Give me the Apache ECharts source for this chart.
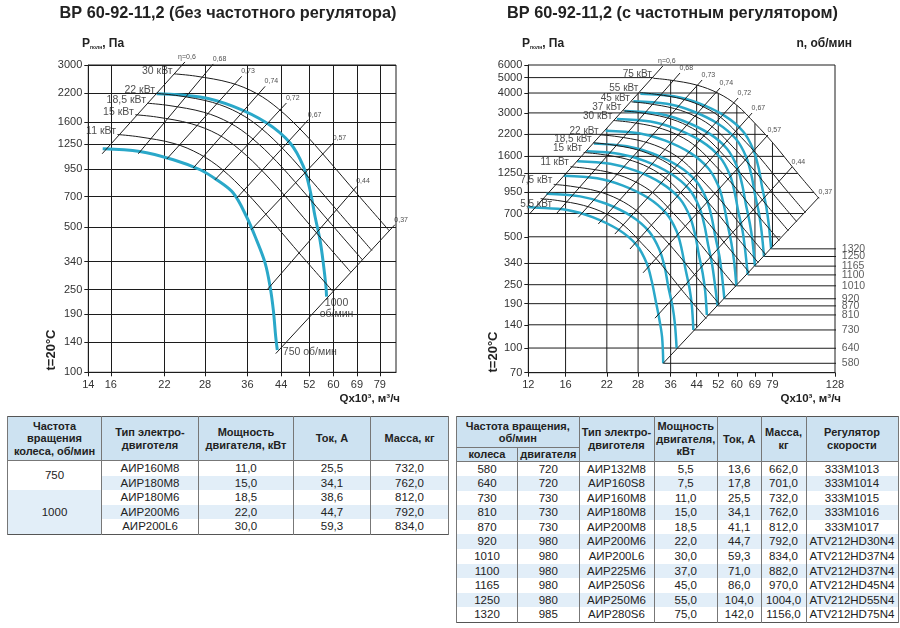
<!DOCTYPE html>
<html><head><meta charset="utf-8">
<script src="https://cdn.jsdelivr.net/npm/echarts@6/dist/echarts.min.js"></script>
<style>
body{margin:0;background:#fff;}
#chart{position:absolute;left:0;top:0;width:900px;height:410px;}
table.t{position:absolute;border-collapse:collapse;table-layout:fixed;font-family:'Liberation Sans',Arial,sans-serif;font-size:11.5px;color:#222;border:1.5px solid #555;}
table.t td,table.t th{padding:0;text-align:center;border-left:1px solid #777;border-right:1px solid #777;white-space:nowrap;overflow:hidden;}
table.t td{height:14.5px;line-height:14.5px;}
table.t th{background:#cde2f1;font-weight:bold;font-size:11px;line-height:12.5px;border-bottom:1px solid #777;}
table.t td.b{background:#e2eef8;}
</style></head><body>
<div id="chart"></div>
<table class="t" id="t1" style="left:7px;top:416px;width:441px"></table>
<table class="t" id="t2" style="left:456px;top:416px;width:441px"></table>
<script>
// ---------------- LEFT CHART (без частотного регулятора) ----------------
const L_xTicks = [14,16,22,28,36,44,52,60,69,79];
const L_yTicks = [100,140,190,250,340,500,700,950,1250,1600,2200,3000];
const L_xRange = [14,87];
const L_yRange = [100,3000];
const L_rpmLabels = ['750 об/мин','1000\nоб/мин'];
const L_rpmCurves = [
  [[15.25,1188],[19.0,1152],[23.2,1051],[27.2,941],[30.0,842],[33.1,727],[35.8,561],[38.0,433],[40.0,335],[41.2,258],[42.0,199],[42.6,148],[43.0,128]],
  [[21.0,2185],[27.2,2106],[33.1,1898],[40.4,1579],[46.4,1265],[50.2,976],[52.2,754],[53.8,561],[55.4,433],[56.5,335],[57.4,258],[57.6,231]]
];
const L_powerLabels = ['30 кВт','22 кВт','18,5 кВт','15 кВт','11 кВт'];
const L_powerCurves = [
  [[23.3,2720],[26.5,2652],[32.6,2462],[38.0,2190],[43.3,1847],[50.1,1428],[57.8,1061],[69.4,713],[83.6,479]],
  [[21.0,2190],[23.9,2135],[29.3,1982],[34.2,1763],[39.1,1487],[45.2,1150],[52.1,854],[62.6,574],[75.4,385]],
  [[19.9,1965],[22.6,1916],[27.8,1778],[32.4,1582],[37.0,1334],[42.8,1032],[49.4,766],[59.3,515],[71.4,346]],
  [[18.5,1730],[21.0,1687],[25.8,1566],[30.2,1393],[34.4,1175],[39.8,908],[45.9,675],[55.1,453],[66.4,304]],
  [[16.65,1390],[18.9,1355],[23.3,1258],[27.1,1119],[31.0,944],[35.8,730],[41.3,542],[49.6,364],[59.8,245]]
];
const L_etaLabels = ['η=0,6','0,68','0,73','0,74','0,72','0,67','0,57','0,44','0,37'];
const L_etaLines = [
  [[15.2,1123],[24.85,3103]],
  [[18.84,1123],[29.4,3035]],
  [[22.3,1059],[34.8,2646]],
  [[26.1,959],[40.0,2368]],
  [[29.7,842],[45.4,1970]],
  [[33.8,688],[51.7,1637]],
  [[36.8,484],[59.9,1265]],
  [[40.6,251],[68.9,782]],
  [[42.6,123],[86.4,512]]
];

// ---------------- RIGHT CHART (с частотным регулятором) ----------------
const R_xTicks = [12,16,22,28,36,44,52,60,69,79,128];
const R_yTicks = [70,100,140,190,250,340,500,700,950,1250,1600,2200,3000,4000,5000,6000];
const R_xRange = [12,128];
const R_yRange = [70,6000];
const R_rpmLabels = ['580','640','730','810','870','920','1010','1100','1165','1250','1320'];
const R_rpmCurves = [
  [[12.0,768],[12.5,765],[16.2,737],[19.7,665],[24.1,553],[27.7,443],[29.9,342],[31.1,264],[32.1,197],[33.0,151],[33.7,117],[34.0,80.2]],
  [[13.8,931],[17.9,897],[21.8,809],[26.6,673],[30.5,539],[33.0,416],[34.4,321],[35.4,239],[36.5,184],[37.2,142],[37.7,99.7]],
  [[15.8,1211],[20.4,1167],[24.8,1052],[30.3,876],[34.8,701],[37.7,541],[39.2,418],[40.4,311],[41.6,240],[42.4,185],[42.9,129.9]],
  [[17.5,1491],[22.6,1437],[27.6,1296],[33.7,1078],[38.7,863],[41.8,666],[43.5,514],[44.8,383],[46.1,295],[47.0,228],[47.6,161.4]],
  [[18.8,1720],[24.3,1658],[29.6,1495],[36.1,1244],[41.5,996],[44.9,769],[46.7,593],[48.1,442],[49.5,341],[50.5,263],[51.7,184]],
  [[19.9,1924],[25.7,1855],[31.3,1672],[38.2,1391],[43.9,1114],[47.5,860],[49.4,664],[50.9,494],[52.4,381],[53.4,294],[54.5,204]],
  [[21.8,2319],[28.2,2236],[34.4,2015],[42.0,1677],[48.2,1343],[52.1,1037],[54.2,800],[55.9,596],[57.5,459],[58.7,355],[59.8,246]],
  [[23.75,2750],[30.8,2651],[37.4,2390],[45.7,1988],[52.5,1592],[56.8,1229],[59.0,949],[60.8,707],[62.7,545],[63.9,421],[65.3,288]],
  [[25.2,3084],[32.6,2973],[39.6,2680],[48.4,2230],[55.6,1786],[60.1,1379],[62.5,1064],[64.4,793],[66.3,611],[67.7,472],[69.0,327]],
  [[27.0,3551],[34.95,3423],[42.5,3086],[51.9,2567],[59.6,2056],[64.5,1587],[67.1,1225],[69.1,913],[71.2,703],[72.6,543],[74.0,376]],
  [[28.5,3960],[36.9,3817],[44.9,3441],[54.8,2863],[63.0,2293],[68.1,1770],[70.9,1366],[73.0,1018],[75.2,784],[76.7,606],[78.2,420]]
];
const R_rpmLineEndQ = 130.3;
const R_powerLabels = ['75 кВт','55 кВт','45 кВт','37 кВт','30 кВт','22 кВт','18,5 кВт','15 кВт','11 кВт','7,5 кВт','5,5 кВт'];
const R_powerCurves = [
  [[31.5,4951],[35.8,4827],[44.0,4491],[52.0,3986],[59.9,3362],[69.0,2580],[79.5,1931],[94.5,1297],[113.1,871]],
  [[28.4,4026],[32.3,3925],[39.7,3652],[46.9,3241],[54.0,2734],[62.2,2098],[71.7,1570],[85.2,1055],[102.0,709]],
  [[26.6,3522],[30.2,3434],[37.1,3194],[43.9,2835],[50.5,2391],[58.2,1835],[67.1,1374],[79.7,923],[95.4,620]],
  [[24.9,3092],[28.3,3015],[34.8,2804],[41.1,2489],[47.3,2099],[54.5,1611],[62.8,1206],[74.7,810],[89.4,544]],
  [[23.2,2688],[26.4,2621],[32.4,2438],[38.3,2164],[44.1,1825],[50.8,1400],[58.6,1048],[69.6,704],[83.3,473]],
  [[20.9,2186],[23.8,2131],[29.2,1983],[34.6,1760],[39.8,1484],[45.8,1139],[52.8,853],[62.8,573],[75.1,385]],
  [[19.8,1948],[22.5,1899],[27.6,1767],[32.6,1568],[37.6,1323],[43.3,1015],[49.9,760],[59.3,510],[70.9,343]],
  [[18.4,1693],[20.9,1651],[25.7,1536],[30.4,1363],[35.0,1150],[40.3,882],[46.5,660],[55.3,444],[66.1,298]],
  [[16.6,1377],[18.9,1343],[23.2,1249],[27.4,1108],[31.6,935],[36.4,717],[41.9,537],[49.8,361],[59.6,242]],
  [[14.6,1067],[16.6,1040],[20.4,968],[24.1,859],[27.8,724],[32.0,556],[36.9,416],[43.9,280],[52.5,188]],
  [[13.2,868],[15.0,846],[18.4,787],[21.8,699],[25.1,589],[28.9,452],[33.3,339],[39.6,227],[47.4,153]]
];
const R_etaLabels = ['η=0,6','0,68','0,73','0,74','0,72','0,67','0,57','0,44','0,37'];
const R_etaLines = [
  [[12.16,702],[33.9,5914]],
  [[14.94,702],[38.7,5343]],
  [[17.65,663],[45.9,4829]],
  [[20.6,602],[52.7,4300]],
  [[23.4,520],[60.6,3722]],
  [[26.3,419],[67.5,2996]],
  [[29.1,297],[76.3,2180]],
  [[31.9,154],[91.9,1372]],
  [[34.0,80.2],[113.2,889]]
];
// grid lines of the right chart (clipped to working area)
const R_hGridP    = [100,140,190,250,340,500,700,950,1250,1600,2200,3000,4000,5000];
const R_hGridEndQ = [37.8,44.3,52.2,60,69.5,84,100.8,108.8,96.1,86.3,74.6,63.7,51.8,31.5];
const R_vGridQ    = [16,22,28,36,44,52,60,69,79];
const R_vGridBotP = [70,70,70,70,134,188,250,330,433];
const R_vGridTopP = [1242,2410,3979,4820,4491,3986,3357,2580,1956];

// ---------------- TABLES ----------------
const tL_rpm = ['750','1000'];
const tL_rpmSpan = [2,3];
const tL_motor = ['АИР160М8','АИР180М8','АИР180М6','АИР200М6','АИР200L6'];
const tL_power = ['11,0','15,0','18,5','22,0','30,0'];
const tL_current = ['25,5','34,1','38,6','44,7','59,3'];
const tL_mass = ['732,0','762,0','812,0','792,0','834,0'];

const tR_wheel = ['580','640','730','810','870','920','1010','1100','1165','1250','1320'];
const tR_engine = ['720','720','730','730','730','980','980','980','980','980','985'];
const tR_motor = ['АИР132М8','АИР160S8','АИР160М8','АИР180М8','АИР200М8','АИР200М6','АИР200L6','АИР225М6','АИР250S6','АИР250М6','АИР280S6'];
const tR_power = ['5,5','7,5','11,0','15,0','18,5','22,0','30,0','37,0','45,0','55,0','75,0'];
const tR_current = ['13,6','17,8','25,5','34,1','41,1','44,7','59,3','71,0','86,0','104,0','142,0'];
const tR_mass = ['662,0','701,0','732,0','762,0','812,0','792,0','834,0','882,0','970,0','1004,0','1156,0'];
const tR_reg = ['333М1013','333М1014','333М1015','333М1016','333М1017','ATV212HD30N4','ATV212HD37N4','ATV212HD37N4','ATV212HD45N4','ATV212HD55N4','ATV212HD75N4'];

// ================= build =================
const lg = Math.log10;
const FONT = "'Liberation Sans', Arial, sans-serif";
const INK = '#1c1c1c';
const CYAN = '#2aa8c9';
const toLog = p => [lg(p[0]), lg(p[1])];

function makeAxis(gi, ticks, range, split, isY) {
  const cv = ticks.map(lg);
  return {
    type: 'value', gridIndex: gi, min: lg(range[0]), max: lg(range[1]),
    axisLine: {show: true, onZero: false, lineStyle: {color: INK, width: 1}},
    axisTick: {show: true, inside: false, length: 4, customValues: cv, lineStyle: {color: INK}},
    axisLabel: {customValues: cv, color: '#333', fontSize: 11, fontFamily: FONT, margin: isY ? 6 : 7,
      formatter: v => String(Math.round(Math.pow(10, v)))},
    splitLine: {show: split, lineStyle: {color: INK, width: 1}}
  };
}

const series = [];
function addLine(gi, pts, opt) {
  series.push(Object.assign({
    type: 'line', xAxisIndex: gi, yAxisIndex: gi, data: pts.map(toLog),
    symbol: 'none', silent: true, animation: false,
    lineStyle: {color: INK, width: 1}, z: 3
  }, opt));
}
function addLabel(gi, pt, text, lab) {
  series.push({
    type: 'scatter', xAxisIndex: gi, yAxisIndex: gi, symbolSize: 1, silent: true, animation: false, clip: false, z: 8,
    itemStyle: {color: 'rgba(0,0,0,0)'},
    data: [{value: toLog(pt), label: Object.assign({show: true, formatter: text, color: '#222', fontSize: 10.5, fontFamily: FONT}, lab)}]
  });
}

// ---- left chart series
L_rpmCurves.forEach((c) => addLine(0, c, {smooth: 0.35, lineStyle: {color: CYAN, width: 3}, z: 3}));
L_powerCurves.forEach((c, i) => {
  addLine(0, c, {smooth: 0.35, z: 4});
  addLabel(0, c[0], L_powerLabels[i], {position: 'left', distance: 1, offset: [0, -3]});
});
L_etaLines.forEach((c, i) => {
  addLine(0, c, {z: 4, clip: false});
  addLabel(0, c[1], L_etaLabels[i], i === 0 ? {position: 'top', distance: 1, fontSize: 7, offset: [2, 0]} : {position: [0, -8], fontSize: 7});
});
addLabel(0, L_rpmCurves[0][L_rpmCurves[0].length - 1], L_rpmLabels[0], {position: 'right', distance: 5, offset: [0, 2], fontSize: 10.5});
addLabel(0, L_rpmCurves[1][L_rpmCurves[1].length - 1], L_rpmLabels[1], {position: 'bottom', distance: 0, offset: [10, 0], fontSize: 10.5, lineHeight: 11, align: 'center'});

// ---- right chart series
R_hGridP.forEach((p, i) => addLine(1, [[R_xRange[0], p], [R_hGridEndQ[i], p]], {z: 1}));
R_vGridQ.forEach((q, i) => addLine(1, [[q, R_vGridBotP[i]], [q, R_vGridTopP[i]]], {z: 1}));
R_rpmCurves.forEach((c, i) => {
  addLine(1, c, {smooth: 0.35, lineStyle: {color: CYAN, width: 2.5}, z: 3});
  const e = c[c.length - 1];
  addLine(1, [e, [R_rpmLineEndQ, e[1]]], {z: 2, clip: false});
  addLabel(1, [R_rpmLineEndQ, e[1]], R_rpmLabels[i], {position: 'right', distance: 4, fontSize: 10.5, color: '#333'});
});
R_powerCurves.forEach((c, i) => {
  addLine(1, c, {smooth: 0.35, z: 4});
  const last = i === R_powerCurves.length - 1;
  addLabel(1, c[0], R_powerLabels[i], last ? {position: 'left', distance: 1, offset: [13, 6], fontSize: 10}
                                          : {position: 'left', distance: 1, offset: [0, -4], fontSize: 10});
});
R_etaLines.forEach((c, i) => {
  addLine(1, c, {z: 4, clip: false});
  addLabel(1, c[1], R_etaLabels[i], i === 0 ? {position: 'top', distance: 1, fontSize: 7, offset: [4, 0]} : {position: [0, -8], fontSize: 7});
});

const bold = s => 'bold ' + s + 'px ' + FONT;
const option = {
  animation: false,
  textStyle: {fontFamily: FONT},
  grid: [
    {left: 88.3, top: 65, width: 307.7, height: 307.3, show: true, borderColor: INK, borderWidth: 1},
    {left: 528.3, top: 65, width: 306.7, height: 307.7, show: true, borderColor: INK, borderWidth: 1}
  ],
  xAxis: [makeAxis(0, L_xTicks, L_xRange, true, false), makeAxis(1, R_xTicks, R_xRange, false, false)],
  yAxis: [makeAxis(0, L_yTicks, L_yRange, true, true), makeAxis(1, R_yTicks, R_yRange, false, true)],
  series: series,
  graphic: [
    {type: 'text', x: 228, y: 14, style: {text: 'ВР 60-92-11,2 (без частотного регулятора)', font: bold(16.3), fill: '#222', align: 'center', verticalAlign: 'middle'}},
    {type: 'text', x: 672.5, y: 14, style: {text: 'ВР 60-92-11,2 (с частотным регулятором)', font: bold(16.3), fill: '#222', align: 'center', verticalAlign: 'middle'}},
    {type: 'text', x: 82, y: 44, style: {text: '{a|P}{s|полн}{a|, Па}', verticalAlign: 'middle', rich: {a: {font: bold(12), fill: '#222'}, s: {font: bold(5), fill: '#222', verticalAlign: 'bottom'}}}},
    {type: 'text', x: 522, y: 44, style: {text: '{a|P}{s|полн}{a|, Па}', verticalAlign: 'middle', rich: {a: {font: bold(12), fill: '#222'}, s: {font: bold(5), fill: '#222', verticalAlign: 'bottom'}}}},
    {type: 'text', x: 852, y: 44, style: {text: 'n, об/мин', font: bold(12), fill: '#222', align: 'right', verticalAlign: 'middle'}},
    {type: 'text', x: 400, y: 399, style: {text: 'Qx10³, м³/ч', font: bold(11.5), fill: '#222', align: 'right', verticalAlign: 'middle'}},
    {type: 'text', x: 841, y: 399, style: {text: 'Qx10³, м³/ч', font: bold(11.5), fill: '#222', align: 'right', verticalAlign: 'middle'}},
    {type: 'text', x: 51, y: 350, rotation: Math.PI / 2, style: {text: 't=20°C', font: bold(13), fill: '#222', align: 'center', verticalAlign: 'middle'}},
    {type: 'text', x: 493, y: 352, rotation: Math.PI / 2, style: {text: 't=20°C', font: bold(13), fill: '#222', align: 'center', verticalAlign: 'middle'}}
  ]
};
echarts.init(document.getElementById('chart'), null, {renderer: 'canvas'}).setOption(option);

// ---- tables
(function () {
  const t1 = document.getElementById('t1');
  let h = '<colgroup>' + [94, 97, 95, 77, 78].map(w => '<col style="width:' + w + 'px">').join('') + '</colgroup>';
  h += '<tr style="height:44px"><th>Частота<br>вращения<br>колеса, об/мин</th><th>Тип электро-<br>двиготеля</th><th>Мощность<br>двигателя, кВт</th><th>Ток, А</th><th>Масса, кг</th></tr>';
  let r = 0;
  tL_rpm.forEach((rpm, g) => {
    for (let k = 0; k < tL_rpmSpan[g]; k++, r++) {
      const cls = r % 2 ? ' class="b"' : '';
      h += '<tr>';
      if (k === 0) h += '<td rowspan="' + tL_rpmSpan[g] + '"' + (g % 2 ? ' class="b"' : '') + '>' + rpm + '</td>';
      h += '<td' + cls + '>' + tL_motor[r] + '</td><td' + cls + '>' + tL_power[r] + '</td><td' + cls + '>' + tL_current[r] + '</td><td' + cls + '>' + tL_mass[r] + '</td></tr>';
    }
  });
  t1.innerHTML = h;

  const t2 = document.getElementById('t2');
  let s = '<colgroup>' + [61, 61.5, 75, 63.5, 43.5, 45, 92].map(w => '<col style="width:' + w + 'px">').join('') + '</colgroup>';
  s += '<tr style="height:31px"><th colspan="2">Частота вращения,<br>об/мин</th><th rowspan="2">Тип электро-<br>двиготеля</th><th rowspan="2">Мощность<br>двигателя,<br>кВт</th><th rowspan="2">Ток, А</th><th rowspan="2">Масса,<br>кг</th><th rowspan="2">Регулятор<br>скорости</th></tr>';
  s += '<tr style="height:13.5px"><th>колеса</th><th>двигателя</th></tr>';
  tR_wheel.forEach((w, i) => {
    const c = i % 2 ? ' class="b"' : '';
    s += '<tr style="height:14.6px">' + [w, tR_engine[i], tR_motor[i], tR_power[i], tR_current[i], tR_mass[i], tR_reg[i]].map(v => '<td' + c + '>' + v + '</td>').join('') + '</tr>';
  });
  t2.innerHTML = s;
})();
</script>
</body></html>
